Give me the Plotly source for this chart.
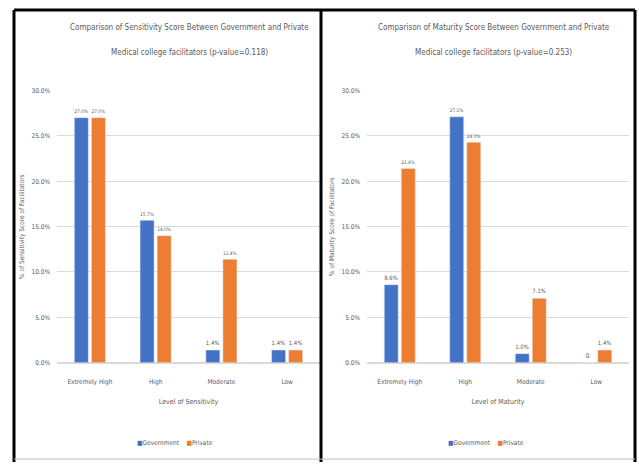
import plotly.graph_objects as go

# Levels on the x axis (shared by both panels)
levels = ["Extremely High", "High", "Moderate", "Low"]

# Sensitivity score (% of facilitators)
sens_gov = [27.0, 15.7, 1.4, 1.4]
sens_pvt = [27.0, 14.0, 11.4, 1.4]

# Maturity score (% of facilitators)
mat_gov = [8.6, 27.1, 1.0, 0.0]
mat_pvt = [21.4, 24.3, 7.1, 1.4]

y_ticks = [0, 5, 10, 15, 20, 25, 30]
series_names = ["Government", "Private"]

W, H = 639, 466
BLUE = "#4472C4"
ORANGE = "#ED7D31"
TXT = "#595959"
GRID = "#D9D9D9"
FONT = "DejaVu Sans Condensed, Liberation Sans Narrow, sans-serif"


def px(x):
    return x / W


def py(y):
    return 1 - y / H


def fmt(v):
    return "0" if v == 0 else f"{v:.1f}%"


fig = go.Figure()

panels = [
    ("x", "y", sens_gov, sens_pvt),
    ("x2", "y2", mat_gov, mat_pvt),
]
for xa, ya, gov, pvt in panels:
    for name, vals, col in ((series_names[0], gov, BLUE), (series_names[1], pvt, ORANGE)):
        fig.add_trace(go.Bar(
            x=levels, y=vals, name=name, marker_color=col,
            text=[fmt(v) for v in vals], textposition="outside",
            textfont=dict(size=6.5, color=TXT, family=FONT), cliponaxis=False,
            xaxis=xa, yaxis=ya, showlegend=False,
        ))

yaxis_common = dict(
    range=[0, 30], tickvals=y_ticks, ticktext=[f"{t:.1f}%" for t in y_ticks],
    showgrid=True, gridcolor=GRID, gridwidth=1, zeroline=True,
    zerolinecolor=GRID, zerolinewidth=1, showline=False, ticks="",
    tickfont=dict(size=6.5, color=TXT, family=FONT), ticklabelstandoff=6,
    domain=[py(365), py(88)],
)
xaxis_common = dict(
    showline=True, linecolor=GRID, ticks="", showgrid=False,
    tickfont=dict(size=6.5, color=TXT, family=FONT), ticklabelstandoff=12,
)

fig.update_layout(
    width=W, height=H,
    margin=dict(l=0, r=0, t=0, b=0),
    paper_bgcolor="white", plot_bgcolor="white",
    barmode="group", bargap=0.48, bargroupgap=0.18,
    font=dict(family=FONT, color=TXT),
    showlegend=False,
    xaxis=dict(xaxis_common, domain=[px(57), px(320)], anchor="y",
               title=dict(text="Level of Sensitivity", standoff=14,
                          font=dict(size=7, color=TXT, family=FONT))),
    xaxis2=dict(xaxis_common, domain=[px(367), px(629)], anchor="y2",
                title=dict(text="Level of Maturity", standoff=14,
                           font=dict(size=7, color=TXT, family=FONT))),
    yaxis=dict(yaxis_common, anchor="x",
               title=dict(text="% of Sensitivity Score of Facilitators", standoff=6,
                          font=dict(size=6.5, color=TXT, family=FONT))),
    yaxis2=dict(yaxis_common, anchor="x2",
                title=dict(text="% of Maturity Score of Facilitators", standoff=6,
                           font=dict(size=6.5, color=TXT, family=FONT))),
)

# Panel titles
titles = [
    (189, "Comparison of Sensitivity Score Between Government and Private",
     "Medical college facilitators (p-value=0.118)"),
    (494, "Comparison of Maturity Score Between Government and Private",
     "Medical college facilitators (p-value=0.253)"),
]
for cx, l1, l2 in titles:
    for ty, line in ((24, l1), (49, l2)):
        fig.add_annotation(x=px(cx), y=py(ty), xref="paper", yref="paper", text=line,
                           xanchor="center", yanchor="middle", showarrow=False,
                           font=dict(size=8, color=TXT, family=FONT))

# Compact series key under each panel
key = (f"<span style='color:{BLUE}'>■</span>{series_names[0]}&nbsp;&nbsp;&nbsp;&nbsp;"
       f"<span style='color:{ORANGE}'>■</span>{series_names[1]}")
for cx in (175, 486):
    fig.add_annotation(x=px(cx), y=py(447), xref="paper", yref="paper", text=key,
                       xanchor="center", yanchor="middle", showarrow=False,
                       font=dict(size=6.5, color=TXT, family=FONT))

# Black frame around the two panels and the divider between them
frame = [
    (14, 6, 14, 466),
    (14, 6, 635, 6),
    (321, 6, 321, 466),
    (635, 6, 635, 466),
]
for x0, y0, x1, y1 in frame:
    fig.add_shape(type="line", xref="paper", yref="paper",
                  x0=px(x0), y0=py(y0), x1=px(x1), y1=py(y1),
                  line=dict(color="black", width=3))
fig.add_shape(type="line", xref="paper", yref="paper",
              x0=px(14), y0=py(463), x1=px(635), y1=py(463),
              line=dict(color="#BFBFBF", width=1))

fig.write_html("out.html")
